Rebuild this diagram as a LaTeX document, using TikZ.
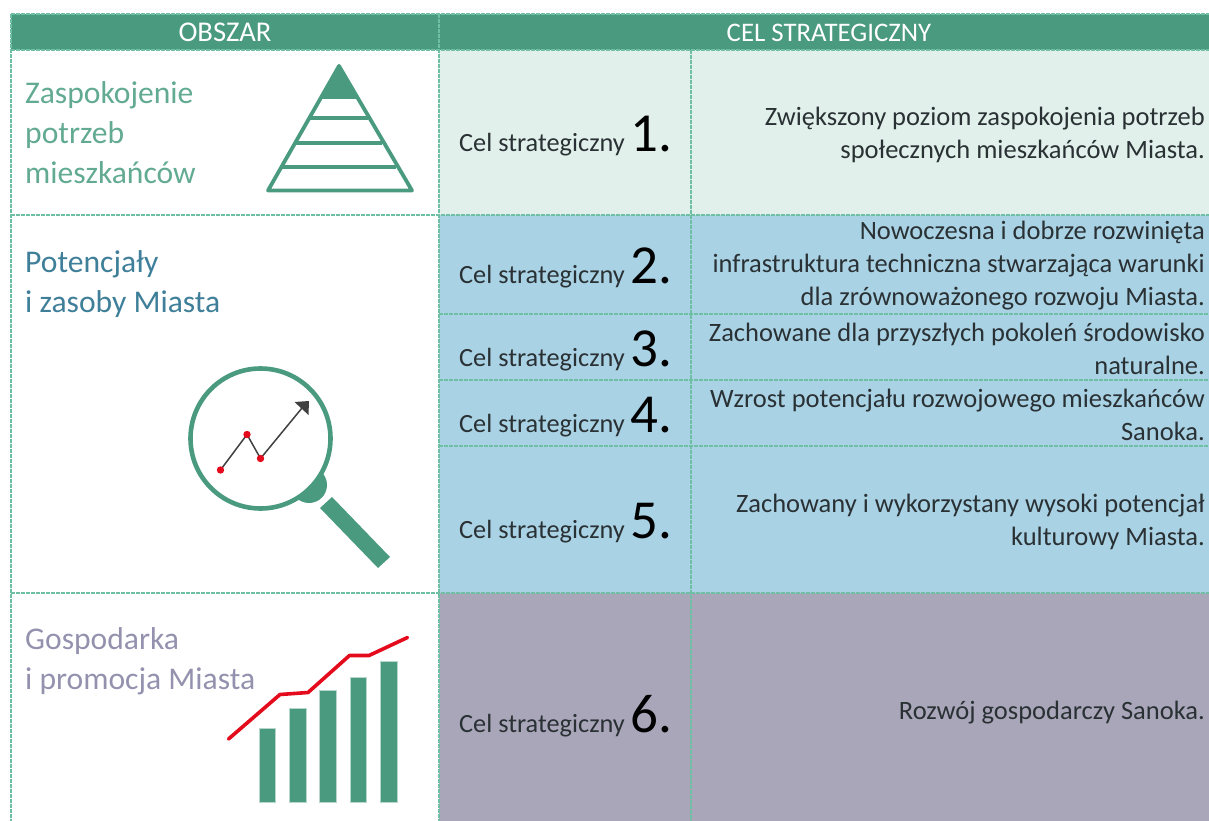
\documentclass[tikz,border=0pt]{standalone}
\usepackage{fontspec}
\setmainfont{Carlito}
\definecolor{hdr}{HTML}{4A9A80}
\definecolor{gridc}{HTML}{6FBFA4}
\definecolor{rowa}{HTML}{E1F0EA}
\definecolor{rowb}{HTML}{A9D2E5}
\definecolor{rowc}{HTML}{A9A6BA}
\definecolor{ttlb}{HTML}{3F7F99}
\definecolor{ttlc}{HTML}{9391AE}
\definecolor{ttla}{HTML}{62AA91}
\definecolor{ink}{HTML}{2A3134}
\definecolor{redl}{HTML}{E30B1C}
\definecolor{arrowc}{HTML}{404040}
\tikzset{
  x=1pt,y=-1pt,
  gridline/.style={gridc,line width=1.1pt,dash pattern=on 4pt off 1pt},
  hdrtext/.style={font=\fontsize{26.8}{32}\selectfont,text=white,anchor=center,inner sep=0},
  areatext/.style={font=\fontsize{31.6}{40}\selectfont,align=left,anchor=north west,inner sep=0},
  celtext/.style={font=\fontsize{26.3}{30}\selectfont,text=ink,anchor=base west,inner sep=0},
  desctext/.style={font=\fontsize{26.5}{33}\selectfont,text=ink,align=right,anchor=east,inner sep=0},
  iconline/.style={hdr,line width=3.8pt,line join=round},
  bar/.style={fill=hdr,draw=hdr!40,line width=.5pt},
}
\newcommand{\celnum}[1]{Cel strategiczny {\fontsize{55}{55}\selectfont\color{black}#1.}}
\begin{document}
\begin{tikzpicture}
\useasboundingbox (0,0) rectangle (1209,821);
% fills
\fill[hdr] (11,14) rectangle (1209,50);
\fill[rowa] (439,50) rectangle (1209,215);
\fill[rowb] (439,215) rectangle (1209,593);
\fill[rowc] (439,593) rectangle (1209,821);
% grid
\draw[gridline] (11,14) -- (1209,14);
\draw[gridline] (11,50) -- (1209,50);
\draw[gridline] (11,215) -- (1209,215);
\draw[gridline] (439,314) -- (1209,314);
\draw[gridline] (439,380) -- (1209,380);
\draw[gridline] (439,446) -- (1209,446);
\draw[gridline] (11,593) -- (1209,593);
\draw[gridline] (11,14) -- (11,821);
\draw[gridline] (439,14) -- (439,821);
\draw[gridline] (691,50) -- (691,821);
% header
\node[hdrtext,font=\fontsize{28.6}{32}\selectfont] (h1) at (225,32.5) {OBSZAR};
\node[hdrtext] (h2) at (829,32.5) {CEL STRATEGICZNY};
% area titles
\node[areatext,text=ttla] (a1) at (25,81.5) {Zaspokojenie\\potrzeb\\mieszkańców};
\node[areatext,text=ttlb] (a2) at (25,250.5) {Potencjały\\i zasoby Miasta};
\node[areatext,text=ttlc] (a3) at (25,627.5) {Gospodarka\\i promocja Miasta};
% cel labels
\node[celtext] (c1) at (459,151.5) {\celnum{1}};
\node[celtext] (c2) at (459,283) {\celnum{2}};
\node[celtext] (c3) at (459,366) {\celnum{3}};
\node[celtext] (c4) at (459,432) {\celnum{4}};
\node[celtext] (c5) at (459,538) {\celnum{5}};
\node[celtext] (c6) at (459,732) {\celnum{6}};
% descriptions
\node[desctext] (d1) at (1205,134.5) {Zwiększony poziom zaspokojenia potrzeb\\społecznych mieszkańców Miasta.};
\node[desctext] (d2) at (1205,266) {Nowoczesna i dobrze rozwinięta\\infrastruktura techniczna stwarzająca warunki\\dla zrównoważonego rozwoju Miasta.};
\node[desctext] (d3) at (1205,349) {Zachowane dla przyszłych pokoleń środowisko\\naturalne.};
\node[desctext] (d4) at (1205,415) {Wzrost potencjału rozwojowego mieszkańców\\Sanoka.};
\node[desctext] (d5) at (1205,522) {Zachowany i wykorzystany wysoki potencjał\\kulturowy Miasta.};
\node[desctext] (d6) at (1205,712.5) {Rozwój gospodarczy Sanoka.};
% pyramid
\fill[hdr] (339,64) -- (320,99) -- (358,99) -- cycle;
\draw[iconline] (339,66) -- (268,190.5) -- (412,190.5) -- cycle;
\draw[iconline] (310,118) -- (368,118);
\draw[iconline] (295,143) -- (382,143);
\draw[iconline] (282,167) -- (396,167);
% magnifier
\fill[hdr] (309,485) circle (18);
\fill[white] (260.5,438.5) circle (70);
\draw[hdr,line width=4.6pt] (260.5,438.5) circle (70);
\fill[hdr] (320,508) -- (332,497) -- (390,557) -- (378,568) -- cycle;
\draw[arrowc,line width=1.5pt] (220.5,470) -- (247,434.5) -- (260.5,458.5) -- (302,408);
\fill[arrowc] (294.5,402) -- (309,401) -- (308.5,415) -- cycle;
\fill[redl] (220.5,470) circle (3.7) (247,434.5) circle (3.7) (260.5,458.5) circle (3.7);
% bars
\draw[bar] (259,802.5) rectangle (275.5,728.5);
\draw[bar] (289,802.5) rectangle (306,708.5);
\draw[bar] (319.5,802.5) rectangle (336.5,690.5);
\draw[bar] (350,802.5) rectangle (366.5,677);
\draw[bar] (380,802.5) rectangle (397,661.5);
\draw[redl,line width=3.6pt,line cap=round,line join=round] (228.5,739) -- (280,694.5) -- (308,692.5) -- (349.5,655.5) -- (369,655.5) -- (407.5,637.5);
\end{tikzpicture}
\end{document}
